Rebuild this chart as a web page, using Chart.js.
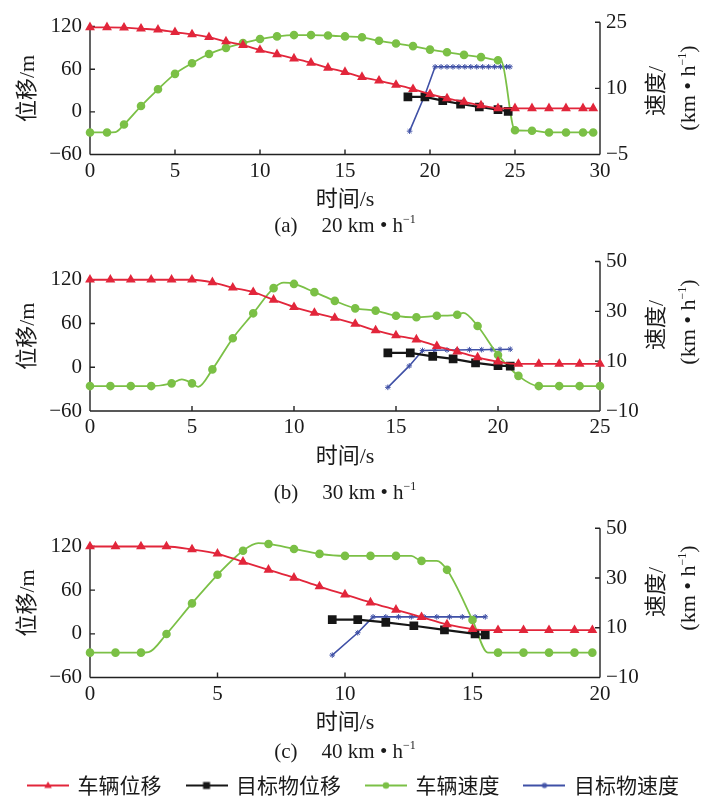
<!DOCTYPE html>
<html><head><meta charset="utf-8">
<script src="https://cdn.jsdelivr.net/npm/chart.js@4.4.1/dist/chart.umd.min.js"></script>
<style>
html,body{margin:0;padding:0;background:#fff;width:708px;height:806px;overflow:hidden;}
#wrap{position:relative;width:708px;height:806px;}
canvas{position:absolute;left:0;}
.cap{position:absolute;transform:translate(-50%,-50%);white-space:nowrap;font-family:"Liberation Serif","Noto Sans CJK SC",serif;font-size:21px;color:#1a1a1a;line-height:1;}
.rt{position:absolute;transform:translate(-50%,-50%) rotate(-90deg);white-space:nowrap;font-family:"Liberation Serif","Noto Sans CJK SC",serif;font-size:22px;color:#1a1a1a;line-height:1;}
.sp{display:inline-block;width:24px;}
sup{font-size:12px;vertical-align:9px;line-height:0;}
</style></head><body><div id="wrap">
<canvas id="ca" width="708" height="213" style="top:0px"></canvas>
<canvas id="cb" width="708" height="230" style="top:240px"></canvas>
<canvas id="cc" width="708" height="306" style="top:500px"></canvas>
<div class="cap" style="left:345px;top:225px">(a)<span class="sp"></span>20 km • h<sup>−1</sup></div>
<div class="cap" style="left:345px;top:492px">(b)<span class="sp"></span>30 km • h<sup>−1</sup></div>
<div class="cap" style="left:345px;top:751px">(c)<span class="sp"></span>40 km • h<sup>−1</sup></div>
<div class="rt" style="left:656px;top:91px">速度/</div>
<div class="rt" style="left:688px;top:88px">(km • h<sup>−1</sup>)</div>
<div class="rt" style="left:656px;top:325px">速度/</div>
<div class="rt" style="left:688px;top:322px">(km • h<sup>−1</sup>)</div>
<div class="rt" style="left:656px;top:592px">速度/</div>
<div class="rt" style="left:688px;top:588px">(km • h<sup>−1</sup>)</div>
</div>
<script>
// ================= DATA =================
const seriesNames = ['车辆位移', '目标物位移', '车辆速度', '目标物速度'];
const xTitle = '时间/s';
const leftTitle = '位移/m';
const leftTicks = [-60, 0, 60, 120];

// (a) 20 km/h
const aXTicks = [0, 5, 10, 15, 20, 25, 30];
const aRightTicks = [-5, 10, 25];
const aRedT = [0,1,2,3,4,5,6,7,8,9,10,11,12,13,14,15,16,17,18,19,20,21,22,23,24,25,26,27,28,29,29.6];
const aRedV = [119,119,118.5,117,115.5,112,109,105,99,94,87,81,75,69,62,56,49,44,38,32,25,19,14,9,5,5,5,5,5,5,5];
const aBlackT = [18.7,19.7,20.75,21.8,22.9,24.0,24.6];
const aBlackV = [21,21,15.8,11,6.8,3,0.8];
const aGreenT = [0,1,1.5,2,3,4,5,6,7,8,9,10,11,12,13,14,15,16,17,18,19,20,21,22,23,24,24.2,25,26,27,28,29,29.6];
const aGreenV = [0,0,0.1,1.8,6,9.8,13.3,15.7,17.8,19.2,20.3,21.2,21.8,22.1,22.1,22,21.8,21.6,20.8,20.2,19.6,18.8,18.2,17.6,17.1,16.4,16.2,0.5,0.4,0,0,0,0];
const aBlueT = [18.8,19.7,20.3,20.65,21.0,21.35,21.7,22.05,22.4,22.75,23.1,23.45,23.8,24.15,24.5,24.7];
const aBlueV = [0.3,8.5,14.9,14.9,14.9,14.9,14.9,14.9,14.9,14.9,14.9,14.9,14.9,14.9,14.9,14.9];

// (b) 30 km/h
const bXTicks = [0, 5, 10, 15, 20, 25];
const bRightTicks = [-10, 10, 30, 50];
const bRedT = [0,1,2,3,4,5,6,7,8,9,10,11,12,13,14,15,16,17,18,19,20,21,22,23,24,25];
const bRedV = [120,120,120,120,120,120,116.5,109,103,92.5,82.5,74.5,67.5,59.5,50.5,43.5,38,29,21.5,13.5,7.5,4.5,4.5,4.5,4.5,4.5];
const bBlackT = [14.6,15.7,16.8,17.8,18.9,20.0,20.6];
const bBlackV = [19.6,19.6,15,11.4,5.9,2.2,1.4];
const bGreenT = [0,1,2,3,4,4.5,5,5.3,6,7,8,9,9.5,10,11,12,13,14,15,16,17,18,18.3,19,20,21,22,23,24,25];
const bGreenV = [0,0,0,0,1.1,2.7,1.1,-0.3,6.7,19.2,29.2,39.3,41.5,41,37.7,34.2,31.2,30.3,28.2,27.6,28.2,28.6,29.4,24.1,12.5,4.1,0,0,0,0];
const bBlueT = [14.6,15.65,16.3,16.9,17.5,18.0,18.6,19.2,19.7,20.1,20.6];
const bBlueV = [-0.5,8.1,14.3,14.4,14.5,14.5,14.6,14.6,14.7,14.7,14.8];

// (c) 40 km/h
const cXTicks = [0, 5, 10, 15, 20];
const cRightTicks = [-10, 10, 30, 50];
const cRedT = [0,1,2,3,4,5,6,7,8,9,10,11,12,13,14,15,15.5,16,17,18,19,19.7];
const cRedV = [120,120,120,120,116,110,99,88,77,65,54,43,33,23,13,6.5,5,5,5,5,5,5];
const cBlackT = [9.5,10.5,11.6,12.7,13.9,15.1,15.5];
const cBlackV = [19.4,19.4,15.7,11.1,5.5,0,-1.4];
const cGreenT = [0,1,2,2.3,3,4,5,6,6.6,7,8,9,10,11,12,12.6,13,13.6,14,15,15.6,16,17,18,19,19.7];
const cGreenV = [0,0,0,0.2,7.5,19.8,31.3,41,44,43.7,41.7,39.7,38.9,38.9,38.9,38.9,36.9,36.9,33.3,13.1,0,0,0,0,0,0];
const cBlueT = [9.5,10.5,11.1,11.6,12.1,12.6,13.1,13.6,14.1,14.6,15.1,15.5];
const cBlueV = [-1,8,14.4,14.4,14.4,14.4,14.4,14.4,14.4,14.4,14.4,14.4];

// ================= STYLE =================
const COLORS = {red:'#e2263b', black:'#161616', green:'#7bc046', blue:'#3f50a6'};
const SERIF = "'Liberation Serif', 'Noto Sans CJK SC', serif";
const TXT = '#1a1a1a';
const tickFont = {family: SERIF, size: 21};
const titleFont = {family: SERIF, size: 22};

function pts(T, V) { return T.map((t, i) => ({x: t, y: V[i]})); }
function fmt(v) { return v < 0 ? '\u2212' + Math.abs(v) : String(v); }
function markerAt(ctx, r) {
  const data = ctx.dataset && ctx.dataset.data; const i = ctx.dataIndex;
  if (!data || i === undefined) return r;
  const p = data[i];
  return (Math.abs(p.x - Math.round(p.x)) < 1e-6 || i === data.length - 1) ? r : 0;
}

const axisPlugin = {
  id: 'axisLines',
  beforeDatasetsDraw(chart) {
    const {ctx, chartArea: ca, scales} = chart;
    const x = scales.x, yl = scales.yL, yr = scales.yR;
    ctx.save();
    ctx.strokeStyle = '#222'; ctx.lineWidth = 1.4; ctx.lineCap = 'butt';
    ctx.beginPath();
    ctx.moveTo(ca.left, ca.bottom); ctx.lineTo(ca.right, ca.bottom);
    const topL = yl.getPixelForValue(yl.ticks[yl.ticks.length - 1].value);
    ctx.moveTo(ca.left, ca.bottom); ctx.lineTo(ca.left, topL);
    ctx.moveTo(ca.right, ca.bottom); ctx.lineTo(ca.right, ca.top);
    x.ticks.forEach(t => { const px = x.getPixelForValue(t.value); ctx.moveTo(px, ca.bottom); ctx.lineTo(px, ca.bottom - 5); });
    yl.ticks.forEach(t => { const py = yl.getPixelForValue(t.value); ctx.moveTo(ca.left, py); ctx.lineTo(ca.left + 5, py); });
    yr.ticks.forEach(t => { const py = yr.getPixelForValue(t.value); ctx.moveTo(ca.right, py); ctx.lineTo(ca.right - 5, py); });
    ctx.stroke();
    ctx.restore();
  }
};

function legendIcon(color, style) {
  const c = document.createElement('canvas');
  c.width = 42; c.height = 12;
  const g = c.getContext('2d');
  g.strokeStyle = color; g.fillStyle = color; g.lineWidth = 2.2;
  g.beginPath(); g.moveTo(0, 6); g.lineTo(42, 6); g.stroke();
  const cx = 21, cy = 6;
  g.beginPath();
  if (style === 'triangle') { g.moveTo(cx, cy - 4); g.lineTo(cx + 3.8, cy + 2.6); g.lineTo(cx - 3.8, cy + 2.6); g.closePath(); g.fill(); }
  else if (style === 'rect') { g.fillRect(cx - 3.5, cy - 3.5, 7, 7); }
  else if (style === 'circle') { g.arc(cx, cy, 3.3, 0, Math.PI * 2); g.fill(); }
  else { g.lineWidth = 1.1; for (let k = 0; k < 4; k++) { const a = k * Math.PI / 4; g.moveTo(cx - 3 * Math.cos(a), cy - 3 * Math.sin(a)); g.lineTo(cx + 3 * Math.cos(a), cy + 3 * Math.sin(a)); } g.stroke(); }
  return c;
}
const icons = [legendIcon(COLORS.red, 'triangle'), legendIcon(COLORS.black, 'rect'), legendIcon(COLORS.green, 'circle'), legendIcon(COLORS.blue, 'star')];

function datasets(redT, redV, blackT, blackV, greenT, greenV, blueT, blueV) {
  return [
    {label: seriesNames[0], data: pts(redT, redV), yAxisID: 'yL', borderColor: COLORS.red, backgroundColor: COLORS.red,
     borderWidth: 1.8, pointStyle: 'triangle', pointRadius: c => markerAt(c, 3.9), cubicInterpolationMode: 'monotone', clip: false},
    {label: seriesNames[1], data: pts(blackT, blackV), yAxisID: 'yL', borderColor: COLORS.black, backgroundColor: COLORS.black,
     borderWidth: 2.2, pointStyle: 'rect', pointRadius: 4.6, tension: 0, clip: false},
    {label: seriesNames[2], data: pts(greenT, greenV), yAxisID: 'yR', borderColor: COLORS.green, backgroundColor: COLORS.green,
     borderWidth: 1.8, pointStyle: 'circle', pointRadius: c => markerAt(c, 3.4), cubicInterpolationMode: 'monotone', clip: false},
    {label: seriesNames[3], data: pts(blueT, blueV), yAxisID: 'yR', borderColor: COLORS.blue, backgroundColor: COLORS.blue,
     borderWidth: 1.6, pointStyle: 'star', pointRadius: 2.8, pointBorderWidth: 1, tension: 0, clip: false}
  ];
}

function makeChart(id, o) {
  return new Chart(document.getElementById(id), {
    type: 'line',
    data: {datasets: o.ds},
    plugins: [axisPlugin],
    options: {
      responsive: false, animation: false, devicePixelRatio: 1,
      layout: {padding: {top: o.top, left: 0, right: 0, bottom: 0}},
      elements: {point: {borderWidth: 1}},
      plugins: {
        tooltip: {enabled: false},
        legend: o.legend ? {
          display: true, position: 'bottom',
          labels: {
            usePointStyle: true, pointStyleWidth: 38, padding: 26, color: TXT,
            font: {family: "'Noto Sans CJK SC', sans-serif", size: 21},
            generateLabels(chart) {
              const items = Chart.defaults.plugins.legend.labels.generateLabels(chart);
              items.forEach((it, i) => { it.pointStyle = icons[i]; it.fontColor = TXT; });
              return items;
            }
          }
        } : {display: false}
      },
      scales: {
        x: {
          type: 'linear', min: o.xTicks[0], max: o.xTicks[o.xTicks.length - 1],
          afterBuildTicks: s => { s.ticks = o.xTicks.map(v => ({value: v})); },
          afterFit: s => { s.height = o.xH; },
          grid: {display: false, drawTicks: false}, border: {display: false},
          ticks: {padding: 4, font: tickFont, color: TXT, maxRotation: 0, autoSkip: false, callback: v => fmt(v)},
          title: {display: true, text: xTitle, font: titleFont, color: TXT, padding: {top: 0, bottom: o.xTitlePad}}
        },
        yL: {
          type: 'linear', position: 'left', min: -60, max: o.lMax,
          afterBuildTicks: s => { s.ticks = leftTicks.map(v => ({value: v})); },
          afterFit: s => { s.width = 90; },
          grid: {display: false, drawTicks: false}, border: {display: false},
          ticks: {padding: 8, font: tickFont, color: TXT, autoSkip: false, callback: v => fmt(v)},
          title: {display: true, text: leftTitle, font: titleFont, color: TXT, padding: {top: 15, bottom: 0}}
        },
        yR: {
          type: 'linear', position: 'right', min: o.rTicks[0], max: o.rTicks[o.rTicks.length - 1],
          afterBuildTicks: s => { s.ticks = o.rTicks.map(v => ({value: v})); },
          afterFit: s => { s.width = 108; },
          grid: {display: false, drawTicks: false}, border: {display: false},
          ticks: {padding: 6, font: tickFont, color: TXT, autoSkip: false, callback: v => fmt(v)}
        }
      }
    }
  });
}

makeChart('ca', {ds: datasets(aRedT, aRedV, aBlackT, aBlackV, aGreenT, aGreenV, aBlueT, aBlueV),
  xTicks: aXTicks, rTicks: aRightTicks, lMax: 126, top: 22.3, xH: 58.5, xTitlePad: 0, legend: false});
makeChart('cb', {ds: datasets(bRedT, bRedV, bBlackT, bBlackV, bGreenT, bGreenV, bBlueT, bBlueV),
  xTicks: bXTicks, rTicks: bRightTicks, lMax: 145, top: 21.5, xH: 59, xTitlePad: 0, legend: false});
makeChart('cc', {ds: datasets(cRedT, cRedV, cBlackT, cBlackV, cGreenT, cGreenV, cBlueT, cBlueV),
  xTicks: cXTicks, rTicks: cRightTicks, lMax: 145, top: 28.3, xH: 71.5, xTitlePad: 12.3, legend: true});
</script>
</body></html>
